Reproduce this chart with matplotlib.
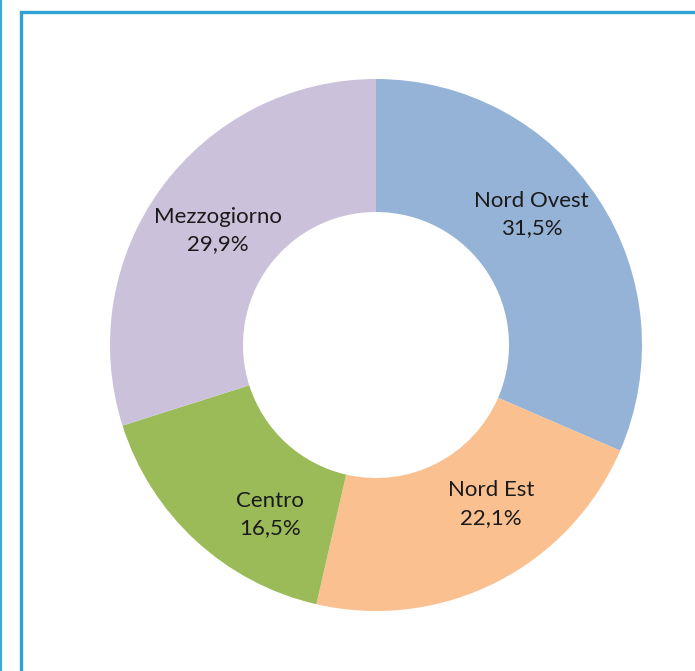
import matplotlib.pyplot as plt
from matplotlib.patches import Rectangle
from matplotlib.lines import Line2D

# Data
regions = ["Nord Ovest", "Nord Est", "Centro", "Mezzogiorno"]
shares = [31.5, 22.1, 16.5, 29.9]
colors = ["#95B3D7", "#FAC090", "#9BBB59", "#CCC1DA"]

# label positions (axes fraction), as placed in the original
label_pos = [(0.792, 0.745), (0.716, 0.201), (0.300, 0.182), (0.203, 0.715)]

fig = plt.figure(figsize=(6.95, 6.71), dpi=100)
fig.patch.set_facecolor("white")

# blue chart frame (right/bottom edges run off the picture)
fig.patches.append(Rectangle((21 / 695, -0.1), 1.0, (671 - 12) / 671 + 0.1,
                             transform=fig.transFigure, fill=False,
                             edgecolor="#2FA2D3", linewidth=2.4))
fig.lines.append(Line2D([0.8 / 695, 0.8 / 695], [0, 1], transform=fig.transFigure,
                        color="#3AAAD8", linewidth=1.6))

ax = fig.add_axes([110 / 695, 60 / 671, 532 / 695, 532 / 671])
wedges, _ = ax.pie(shares, colors=colors, startangle=90, counterclock=False,
                   radius=1.0, wedgeprops=dict(width=0.5, linewidth=0))
ax.set_xlim(-1, 1)
ax.set_ylim(-1, 1)
ax.set_aspect("equal")
ax.axis("off")

for name, val, (x, y) in zip(regions, shares, label_pos):
    txt = f"{name}\n{val:.1f}%".replace(".", ",")
    ax.text(x, y, txt, transform=ax.transAxes, ha="center", va="center",
            fontsize=16, family="Lato", color="#1a1a1a", linespacing=1.45)

fig.savefig("out.png", dpi=100)
